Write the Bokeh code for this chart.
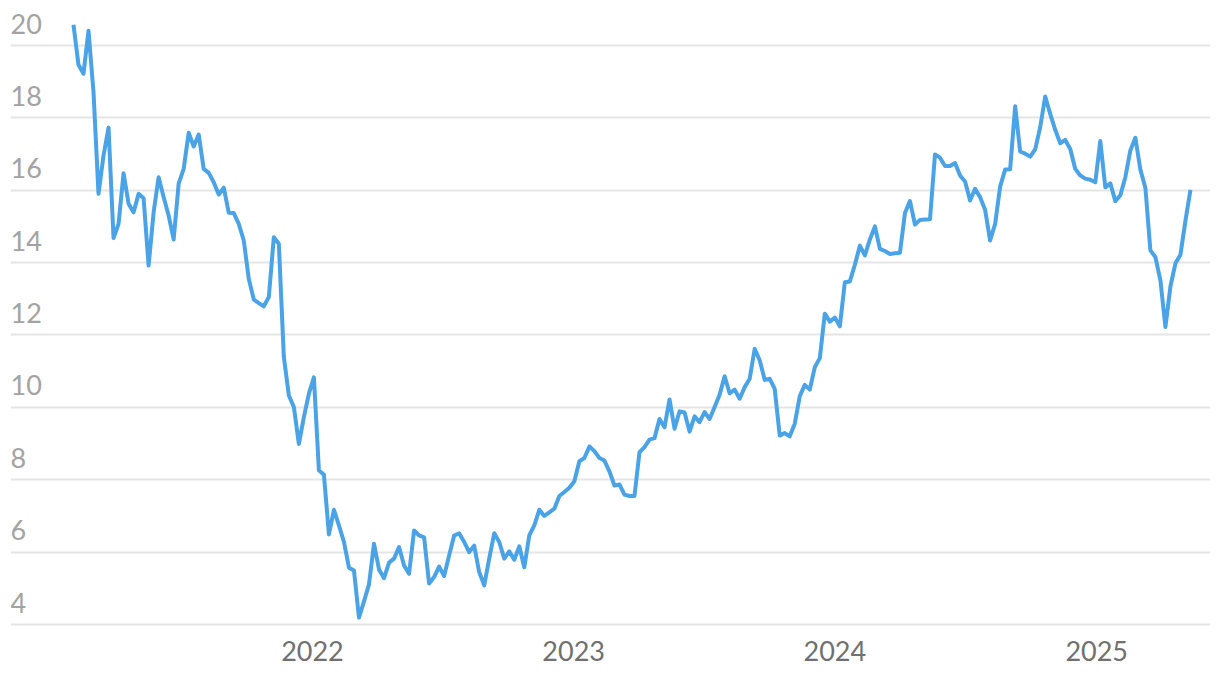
import pandas as pd
from bokeh.plotting import figure
from bokeh.models import Range1d, FixedTicker, DatetimeTickFormatter, ColumnDataSource
from bokeh.core.properties import value
from bokeh.embed import file_html
from bokeh.resources import INLINE

# ---- data (weekly series) ----
start_date = "2021-02-01"
values = [
    20.57, 19.47, 19.22, 20.41, 18.71, 15.90, 16.96, 17.73, 14.68, 15.07,
    16.47, 15.63, 15.39, 15.90, 15.78, 13.92, 15.39, 16.36, 15.81, 15.30,
    14.64, 16.18, 16.59, 17.59, 17.21, 17.54, 16.59, 16.48, 16.22, 15.88,
    16.07, 15.38, 15.37, 15.07, 14.61, 13.55, 12.98, 12.88, 12.79, 13.05,
    14.70, 14.52, 11.39, 10.33, 10.01,
    8.99, 9.73, 10.38, 10.83, 8.26, 8.14, 6.49, 7.17, 6.74, 6.28,
    5.57, 5.49, 4.19, 4.64, 5.11, 6.23, 5.52, 5.28, 5.71, 5.82,
    6.14, 5.63, 5.40, 6.60, 6.46, 6.41, 5.13, 5.31, 5.60, 5.34,
    5.91, 6.46, 6.52, 6.28, 6.00, 6.18, 5.45, 5.08, 5.82, 6.52,
    6.28, 5.82, 6.02, 5.79, 6.16,
    5.58, 6.46, 6.74, 7.17, 7.00, 7.10, 7.20, 7.55, 7.66, 7.78,
    7.96, 8.51, 8.60, 8.92, 8.79, 8.60, 8.53, 8.23, 7.84, 7.87,
    7.59, 7.55, 7.55, 8.76, 8.90, 9.11, 9.15, 9.68, 9.45, 10.22,
    9.41, 9.89, 9.86, 9.33, 9.75, 9.59, 9.87, 9.68, 10.01, 10.35,
    10.86, 10.39, 10.49, 10.24, 10.56,
    10.79, 11.62, 11.30, 10.76, 10.79, 10.51, 9.22, 9.29, 9.20, 9.55,
    10.31, 10.62, 10.49, 11.11, 11.36, 12.59, 12.37, 12.48, 12.24, 13.46,
    13.48, 13.94, 14.47, 14.20, 14.64, 15.00, 14.38, 14.32, 14.24, 14.26,
    14.27, 15.37, 15.70, 15.05, 15.18, 15.19, 15.20, 16.99, 16.90, 16.67,
    16.67, 16.75, 16.41, 16.24, 15.72,
    16.04, 15.81, 15.46, 14.61, 15.07, 16.10, 16.57, 16.58, 18.32, 17.07,
    17.01, 16.93, 17.13, 17.74, 18.59, 18.11, 17.67, 17.30, 17.39, 17.14,
    16.59, 16.41, 16.32, 16.29, 16.22, 17.36, 16.08, 16.19, 15.70, 15.86,
    16.36, 17.10, 17.45, 16.57, 16.07, 14.34, 14.15, 13.51, 12.22, 13.34,
    13.98, 14.22, 15.16, 16.01,
]
y_ticks = [4, 6, 8, 10, 12, 14, 16, 18, 20]
y_tick_labels = ["4", "6", "8", "10", "12", "14", "16", "18", "20"]
x_tick_years = [2022, 2023, 2024, 2025]

dates = pd.date_range(start_date, periods=len(values), freq="7D")
src = ColumnDataSource(data=dict(date=dates, value=values))


def ms(ts):
    return pd.Timestamp(ts).value / 1e6


x_start = ms("2020-11-05")
x_end = ms("2025-06-09")

p = figure(
    width=1220, height=680,
    x_axis_type="datetime",
    x_range=Range1d(x_start, x_end),
    y_range=Range1d(3.834, 20.967),
    output_backend="svg",
    toolbar_location=None,
    min_border_left=10, min_border_right=10, min_border_top=10, min_border_bottom=50,
)
p.outline_line_color = None
p.background_fill_color = "white"
p.border_fill_color = "white"

# y axis hidden; gridlines kept
p.yaxis.visible = False
p.ygrid.ticker = FixedTicker(ticks=y_ticks)
p.ygrid.grid_line_color = "#e5e5e5"
p.ygrid.grid_line_width = 2
p.xgrid.visible = False

# x axis
p.xaxis.ticker = FixedTicker(ticks=[ms(f"{y}-01-01") for y in x_tick_years])
p.xaxis.formatter = DatetimeTickFormatter(
    years="%Y", months="%Y", days="%Y", hours="%Y", hourmin="%Y",
    minutes="%Y", minsec="%Y", seconds="%Y", milliseconds="%Y", microseconds="%Y",
)
p.xaxis.axis_line_color = None
p.xaxis.major_tick_line_color = None
p.xaxis.minor_tick_line_color = None
p.xaxis.major_label_text_font = "Lato"
p.xaxis.major_label_text_font_size = "27px"
p.xaxis.major_label_text_color = "#707070"
p.xaxis.major_label_standoff = 4

# the series
p.line(x="date", y="value", source=src, line_color="#4AA3E6", line_width=4,
       line_join="round")

# y tick labels sitting above the gridlines at the left
label_lift = 0.33  # in data units, keeps labels clear above each gridline
p.text(x=[x_start] * len(y_ticks), y=[t + label_lift for t in y_ticks],
       text=y_tick_labels,
       text_font=value("Lato"), text_font_size=value("27px"),
       text_color="#a3a3a3", text_align="left", text_baseline="alphabetic",
       y_offset=-10)

open("out.html", "w").write(file_html(p, INLINE))
